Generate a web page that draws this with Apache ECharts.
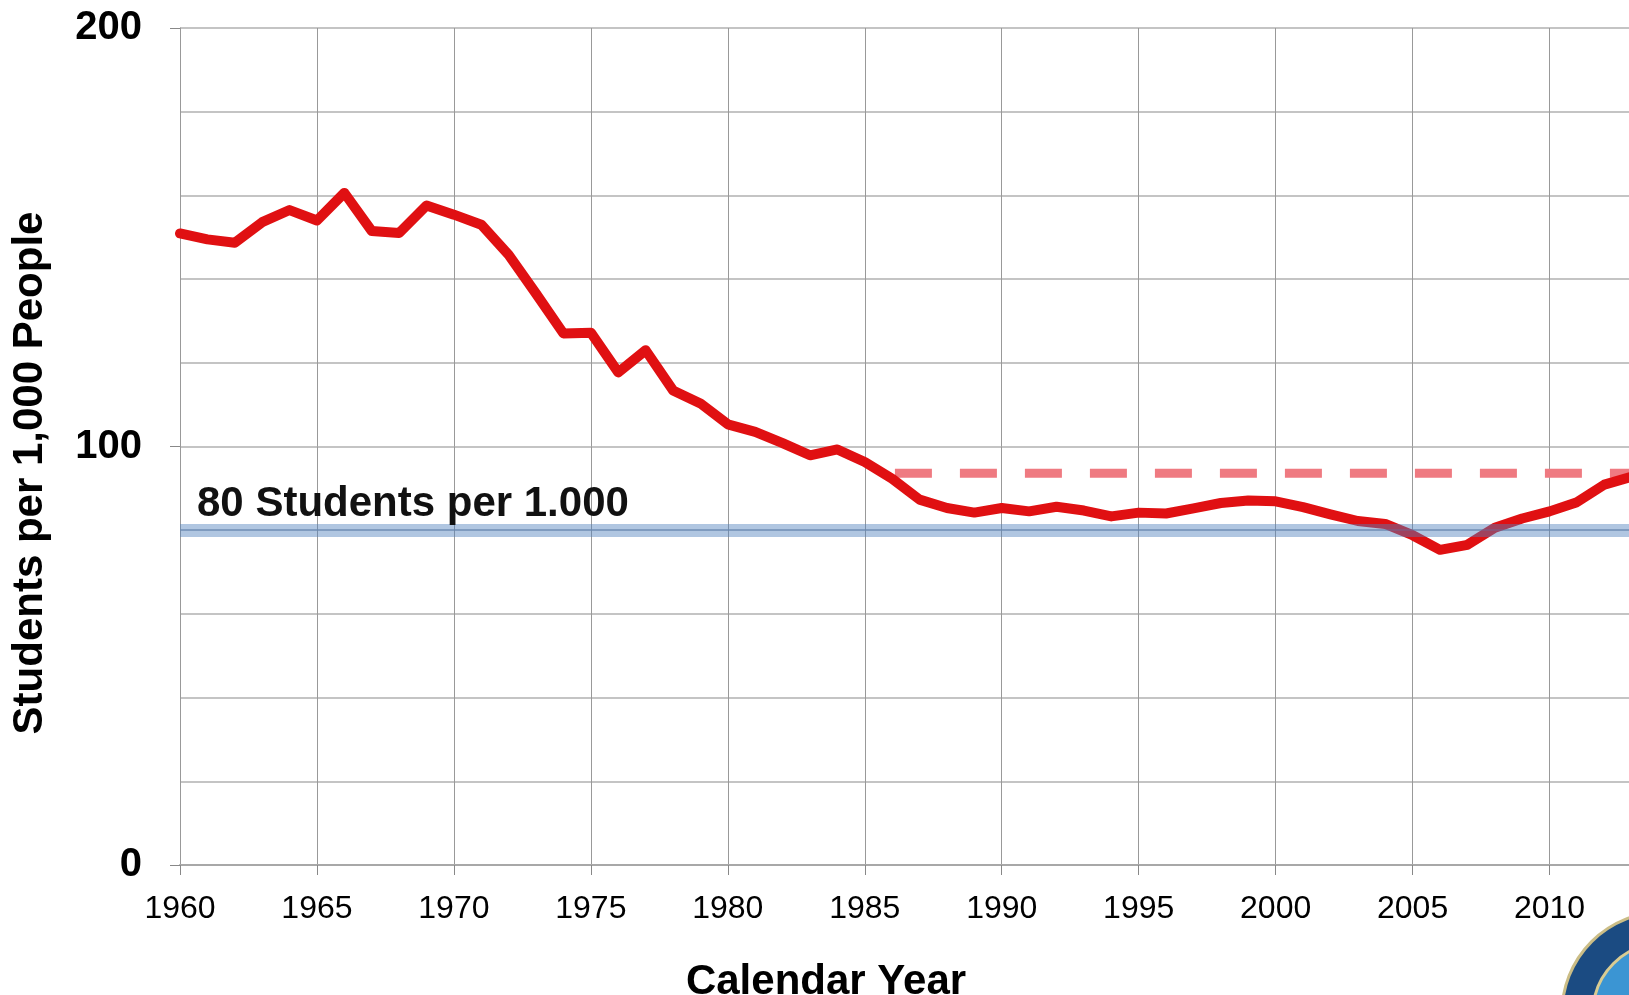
<!DOCTYPE html>
<html>
<head>
<meta charset="utf-8">
<script src="https://cdn.jsdelivr.net/npm/echarts@6/dist/echarts.min.js"></script>
<style>
html, body { margin: 0; padding: 0; background: #fff; }
#main { width: 1629px; height: 995px; }
</style>
</head>
<body>
<div id="main"></div>
<script>
var years = [1960, 1961, 1962, 1963, 1964, 1965, 1966, 1967, 1968, 1969,
    1970, 1971, 1972, 1973, 1974, 1975, 1976, 1977, 1978, 1979,
    1980, 1981, 1982, 1983, 1984, 1985, 1986, 1987, 1988, 1989,
    1990, 1991, 1992, 1993, 1994, 1995, 1996, 1997, 1998, 1999,
    2000, 2001, 2002, 2003, 2004, 2005, 2006, 2007, 2008, 2009,
    2010, 2011, 2012, 2013];
var studentsPer1000 = [150.9, 149.5, 148.7, 153.6, 156.5, 154.0, 160.6, 151.5, 151.0, 157.6,
    155.4, 153.0, 145.8, 136.5, 127.0, 127.2, 117.7, 123.0, 113.4, 110.3,
    105.3, 103.5, 100.8, 97.9, 99.3, 96.3, 92.3, 87.3, 85.3, 84.2,
    85.3, 84.5, 85.6, 84.7, 83.3, 84.2, 84.0, 85.2, 86.5, 87.1,
    86.9, 85.5, 83.8, 82.2, 81.5, 78.8, 75.3, 76.5, 80.6, 82.8,
    84.5, 86.7, 90.9, 92.8];

// the picture is cut off a little before 2013
var xMin = 1960;
var xMax = 2012.9;

// dashed reference level and the 80 per 1,000 band
var dashedYears = [1986.1, 2012.9];
var dashedLevel = 93.6;
var targetLevel = 80;
var targetLabel = '80 Students per 1.000';

var yTitle = 'Students per 1,000 People';
var xTitle = 'Calendar Year';

var font = "'Liberation Sans', Arial, sans-serif";
var blue = 'rgba(79, 129, 189, 0.45)';

var lineData = [];
for (var i = 0; i < years.length; i++) {
    lineData.push([years[i], studentsPer1000[i]]);
}
var dashedData = [];
for (var j = 0; j < dashedYears.length; j++) {
    dashedData.push([dashedYears[j], dashedLevel]);
}

var myChart = echarts.init(document.getElementById('main'));
myChart.setOption({
    backgroundColor: '#fff',
    animation: false,
    grid: {
        left: 180,
        top: 28,
        bottom: 130,
        right: 0
    },
    xAxis: {
        type: 'value',
        min: xMin,
        max: xMax,
        interval: 5,
        axisLine: {show: true, lineStyle: {color: '#a8a8a8', width: 2}},
        axisTick: {show: true, length: 10, lineStyle: {color: '#888', width: 1}},
        axisLabel: {
            margin: 28,
            fontFamily: font,
            fontSize: 32,
            color: '#000',
            showMaxLabel: false,
            formatter: function (v) { return v % 5 === 0 ? String(v) : ''; }
        },
        splitLine: {show: true, lineStyle: {color: '#999', width: 1}}
    },
    yAxis: [{
        type: 'value',
        min: 0,
        max: 200,
        interval: 100,
        axisLine: {show: true, lineStyle: {color: '#999', width: 1}},
        axisTick: {show: true, length: 10, lineStyle: {color: '#888', width: 1}},
        axisLabel: {
            margin: 38,
            fontFamily: font,
            fontSize: 40,
            fontWeight: 'bold',
            color: '#000'
        },
        splitLine: {show: false}
    }, {
        type: 'value',
        min: 0,
        max: 200,
        interval: 20,
        position: 'left',
        axisLine: {show: false},
        axisTick: {show: false},
        axisLabel: {show: false},
        splitLine: {show: true, lineStyle: {color: '#c4c4c4', width: 2}}
    }],
    series: [{
        name: 'target',
        type: 'line',
        data: dashedData,
        showSymbol: false,
        z: 2,
        lineStyle: {color: '#ef7a81', width: 9, type: [37, 28], cap: 'butt'}
    }, {
        name: 'students',
        type: 'line',
        data: lineData,
        showSymbol: false,
        z: 3,
        lineStyle: {color: '#e01012', width: 10, join: 'round', cap: 'round'}
    }, {
        name: 'band',
        type: 'line',
        data: [],
        z: 4,
        markLine: {
            silent: true,
            symbol: 'none',
            animation: false,
            data: [{
                yAxis: targetLevel,
                lineStyle: {color: blue, width: 13, type: 'solid'},
                label: {
                    show: true,
                    position: 'insideStartTop',
                    distance: [17, 5],
                    formatter: targetLabel,
                    fontFamily: font,
                    fontSize: 42,
                    fontWeight: 'bold',
                    color: '#111'
                }
            }, {
                yAxis: targetLevel,
                lineStyle: {color: 'rgba(79, 129, 189, 0.25)', width: 2, type: 'solid'},
                label: {show: false}
            }]
        }
    }],
    graphic: [{
        type: 'text',
        x: 30,
        y: 473,
        rotation: Math.PI / 2,
        style: {
            text: yTitle,
            fontFamily: font,
            fontSize: 42,
            fontWeight: 'bold',
            fill: '#000',
            textAlign: 'center',
            textVerticalAlign: 'middle'
        }
    }, {
        type: 'text',
        x: 826,
        y: 982,
        style: {
            text: xTitle,
            fontFamily: font,
            fontSize: 42,
            fontWeight: 'bold',
            fill: '#000',
            textAlign: 'center',
            textVerticalAlign: 'middle'
        }
    }, {
        // seal in the corner
        type: 'circle',
        shape: {cx: 1663, cy: 1013, r: 101},
        style: {fill: '#1b4b82', stroke: '#cbbd86', lineWidth: 3}
    }, {
        type: 'circle',
        shape: {cx: 1663, cy: 1013, r: 70},
        style: {fill: '#3b95d3', stroke: '#d9cc92', lineWidth: 3}
    }]
});
</script>
</body>
</html>
